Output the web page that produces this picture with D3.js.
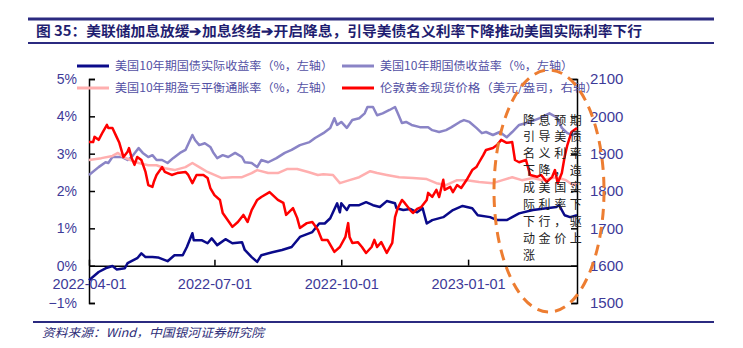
<!DOCTYPE html>
<html>
<head>
<meta charset="utf-8">
<script src="https://cdn.jsdelivr.net/npm/d3@7"></script>
<style>
  body { margin: 0; background: #fff; }
  svg { display: block; }
</style>
</head>
<body>
<div id="chart"></div>
<script>
// Series: [date, value]
const realYield = [
  ["2022-04-01", -0.39], ["2022-04-08", -0.17], ["2022-04-13", -0.07], ["2022-04-18", -0.01],
  ["2022-04-21", -0.10], ["2022-04-27", -0.07], ["2022-04-29", 0.07], ["2022-05-06", 0.20],
  ["2022-05-09", 0.33], ["2022-05-12", 0.23], ["2022-05-17", 0.23], ["2022-05-21", 0.22],
  ["2022-05-28", 0.12], ["2022-06-02", 0.28], ["2022-06-08", 0.28], ["2022-06-11", 0.50],
  ["2022-06-15", 0.87], ["2022-06-16", 0.68], ["2022-06-22", 0.68], ["2022-06-26", 0.60],
  ["2022-06-29", 0.73], ["2022-07-03", 0.55], ["2022-07-09", 0.71], ["2022-07-14", 0.60],
  ["2022-07-21", 0.63], ["2022-07-23", 0.42], ["2022-07-28", 0.23], ["2022-08-01", 0.10],
  ["2022-08-04", 0.28], ["2022-08-12", 0.36], ["2022-08-19", 0.42], ["2022-08-26", 0.50],
  ["2022-09-01", 0.77], ["2022-09-10", 0.90], ["2022-09-15", 1.13], ["2022-09-19", 1.13],
  ["2022-09-23", 1.27], ["2022-09-28", 1.67], ["2022-09-30", 1.43], ["2022-10-01", 1.67],
  ["2022-10-05", 1.49], ["2022-10-07", 1.62], ["2022-10-14", 1.62], ["2022-10-19", 1.70],
  ["2022-10-24", 1.62], ["2022-10-29", 1.57], ["2022-11-03", 1.73], ["2022-11-09", 1.67],
  ["2022-11-10", 1.54], ["2022-11-15", 1.49], ["2022-11-20", 1.52], ["2022-11-25", 1.43],
  ["2022-11-29", 1.54], ["2022-12-02", 1.13], ["2022-12-06", 1.22], ["2022-12-14", 1.30],
  ["2022-12-21", 1.49], ["2022-12-28", 1.60], ["2023-01-04", 1.54], ["2023-01-08", 1.35],
  ["2023-01-17", 1.30], ["2023-01-22", 1.22], ["2023-01-29", 1.22], ["2023-02-02", 1.30],
  ["2023-02-07", 1.40], ["2023-02-17", 1.49], ["2023-02-27", 1.54], ["2023-03-06", 1.57],
  ["2023-03-08", 1.62], ["2023-03-12", 1.35], ["2023-03-16", 1.30], ["2023-03-21", 1.35]
];

const nominalYield = [
  ["2022-04-01", 2.43], ["2022-04-08", 2.64], ["2022-04-13", 2.77], ["2022-04-15", 2.75],
  ["2022-04-18", 2.91], ["2022-04-25", 2.91], ["2022-04-29", 2.83], ["2022-05-02", 2.91],
  ["2022-05-07", 3.15], ["2022-05-10", 3.02], ["2022-05-14", 2.91], ["2022-05-17", 2.96],
  ["2022-05-20", 2.83], ["2022-05-24", 2.83], ["2022-05-28", 2.75], ["2022-06-01", 2.88],
  ["2022-06-06", 3.02], ["2022-06-10", 3.10], ["2022-06-15", 3.50], ["2022-06-17", 3.36],
  ["2022-06-20", 3.23], ["2022-06-24", 3.28], ["2022-06-28", 3.18], ["2022-06-30", 3.04],
  ["2022-07-03", 2.88], ["2022-07-07", 2.96], ["2022-07-11", 2.91], ["2022-07-16", 3.02],
  ["2022-07-21", 2.91], ["2022-07-23", 2.77], ["2022-07-28", 2.75], ["2022-08-01", 2.64],
  ["2022-08-04", 2.83], ["2022-08-09", 2.77], ["2022-08-15", 2.88], ["2022-08-21", 3.02],
  ["2022-08-26", 3.10], ["2022-09-01", 3.23], ["2022-09-08", 3.31], ["2022-09-12", 3.42],
  ["2022-09-18", 3.55], ["2022-09-23", 3.69], ["2022-09-26", 3.95], ["2022-09-28", 3.77],
  ["2022-10-01", 3.85], ["2022-10-05", 3.69], ["2022-10-09", 3.90], ["2022-10-14", 3.95],
  ["2022-10-18", 4.08], ["2022-10-20", 4.25], ["2022-10-24", 4.25], ["2022-10-27", 4.03],
  ["2022-10-31", 4.08], ["2022-11-05", 4.17], ["2022-11-09", 4.25], ["2022-11-11", 4.08],
  ["2022-11-14", 3.82], ["2022-11-17", 3.85], ["2022-11-21", 3.77], ["2022-11-27", 3.71],
  ["2022-12-03", 3.71], ["2022-12-06", 3.63], ["2022-12-11", 3.58], ["2022-12-16", 3.63],
  ["2022-12-20", 3.71], ["2022-12-26", 3.85], ["2022-12-29", 3.90], ["2023-01-02", 3.85],
  ["2023-01-07", 3.69], ["2023-01-11", 3.55], ["2023-01-14", 3.58], ["2023-01-19", 3.50],
  ["2023-01-24", 3.58], ["2023-01-29", 3.44], ["2023-02-02", 3.58], ["2023-02-07", 3.77],
  ["2023-02-15", 3.85], ["2023-02-22", 3.95], ["2023-03-01", 4.08], ["2023-03-06", 3.98],
  ["2023-03-10", 3.69], ["2023-03-14", 3.55], ["2023-03-18", 3.50], ["2023-03-21", 3.58]
];

const breakeven = [
  ["2022-04-01", 2.83], ["2022-04-10", 2.88], ["2022-04-18", 2.94], ["2022-04-22", 3.02],
  ["2022-04-26", 2.91], ["2022-05-01", 2.83], ["2022-05-07", 2.75], ["2022-05-14", 2.69],
  ["2022-05-20", 2.69], ["2022-05-26", 2.61], ["2022-06-02", 2.56], ["2022-06-10", 2.64],
  ["2022-06-15", 2.75], ["2022-06-20", 2.64], ["2022-06-26", 2.51], ["2022-07-01", 2.43],
  ["2022-07-06", 2.35], ["2022-07-14", 2.37], ["2022-07-21", 2.37], ["2022-07-28", 2.48],
  ["2022-08-01", 2.56], ["2022-08-09", 2.48], ["2022-08-16", 2.48], ["2022-08-23", 2.59],
  ["2022-08-30", 2.59], ["2022-09-07", 2.51], ["2022-09-14", 2.43], ["2022-09-18", 2.45],
  ["2022-09-25", 2.43], ["2022-09-30", 2.21], ["2022-10-07", 2.29], ["2022-10-14", 2.37],
  ["2022-10-22", 2.53], ["2022-10-27", 2.48], ["2022-11-03", 2.43], ["2022-11-12", 2.37],
  ["2022-11-22", 2.35], ["2022-12-02", 2.32], ["2022-12-09", 2.21], ["2022-12-16", 2.16],
  ["2022-12-24", 2.29], ["2022-12-31", 2.29], ["2023-01-09", 2.24], ["2023-01-19", 2.21],
  ["2023-01-26", 2.29], ["2023-02-02", 2.37], ["2023-02-09", 2.29], ["2023-02-17", 2.35],
  ["2023-02-24", 2.29], ["2023-03-06", 2.37], ["2023-03-13", 2.29], ["2023-03-18", 2.16],
  ["2023-03-21", 2.21]
];

const goldPrice = [
  ["2022-04-01", 1931], ["2022-04-04", 1931], ["2022-04-05", 1945], ["2022-04-08", 1937],
  ["2022-04-11", 1958], ["2022-04-14", 1977], ["2022-04-15", 1969], ["2022-04-18", 1969],
  ["2022-04-21", 1945], ["2022-04-23", 1929], ["2022-04-26", 1891], ["2022-04-29", 1905],
  ["2022-04-30", 1915], ["2022-05-02", 1888], ["2022-05-04", 1870], ["2022-05-06", 1891],
  ["2022-05-09", 1883], ["2022-05-12", 1851], ["2022-05-14", 1816], ["2022-05-17", 1811],
  ["2022-05-18", 1824], ["2022-05-20", 1843], ["2022-05-24", 1864], ["2022-05-26", 1851],
  ["2022-05-31", 1843], ["2022-06-04", 1848], ["2022-06-10", 1851], ["2022-06-12", 1843],
  ["2022-06-15", 1821], ["2022-06-18", 1843], ["2022-06-23", 1843], ["2022-06-26", 1835],
  ["2022-06-28", 1808], ["2022-07-01", 1789], ["2022-07-05", 1776], ["2022-07-07", 1741],
  ["2022-07-14", 1704], ["2022-07-18", 1717], ["2022-07-22", 1736], ["2022-07-25", 1717],
  ["2022-07-28", 1749], ["2022-08-01", 1776], ["2022-08-04", 1784], ["2022-08-10", 1797],
  ["2022-08-16", 1776], ["2022-08-20", 1768], ["2022-08-22", 1736], ["2022-08-27", 1754],
  ["2022-08-30", 1728], ["2022-09-01", 1701], ["2022-09-06", 1714], ["2022-09-10", 1717],
  ["2022-09-14", 1696], ["2022-09-17", 1669], ["2022-09-21", 1669], ["2022-09-26", 1637],
  ["2022-09-30", 1650], ["2022-10-04", 1677], ["2022-10-06", 1714], ["2022-10-07", 1677],
  ["2022-10-09", 1661], ["2022-10-13", 1663], ["2022-10-16", 1650], ["2022-10-19", 1634],
  ["2022-10-23", 1650], ["2022-10-25", 1669], ["2022-10-27", 1650], ["2022-10-30", 1663],
  ["2022-11-03", 1634], ["2022-11-07", 1661], ["2022-11-09", 1730], ["2022-11-11", 1754],
  ["2022-11-14", 1776], ["2022-11-16", 1768], ["2022-11-20", 1749], ["2022-11-22", 1741],
  ["2022-11-25", 1752], ["2022-11-28", 1757], ["2022-12-02", 1776], ["2022-12-03", 1795],
  ["2022-12-06", 1784], ["2022-12-09", 1803], ["2022-12-11", 1784], ["2022-12-14", 1830],
  ["2022-12-15", 1803], ["2022-12-19", 1811], ["2022-12-21", 1797], ["2022-12-24", 1816],
  ["2022-12-27", 1808], ["2022-12-31", 1830], ["2023-01-04", 1856], ["2023-01-07", 1864],
  ["2023-01-09", 1877], ["2023-01-12", 1896], ["2023-01-14", 1910], ["2023-01-19", 1915],
  ["2023-01-22", 1923], ["2023-01-25", 1937], ["2023-01-29", 1929], ["2023-02-02", 1931],
  ["2023-02-04", 1883], ["2023-02-07", 1877], ["2023-02-12", 1883], ["2023-02-15", 1843],
  ["2023-02-20", 1838], ["2023-02-23", 1843], ["2023-02-27", 1824], ["2023-03-03", 1838],
  ["2023-03-05", 1856], ["2023-03-07", 1821], ["2023-03-10", 1848], ["2023-03-12", 1891],
  ["2023-03-14", 1923], ["2023-03-17", 1958], ["2023-03-21", 1969]
];

const xTicks = ["2022-04-01", "2022-07-01", "2022-10-01", "2023-01-01"];
const leftTicks = [-1, 0, 1, 2, 3, 4, 5];
const rightTicks = [1500, 1600, 1700, 1800, 1900, 2000, 2100];

const titleText = "图 35：美联储加息放缓➔加息终结➔开启降息，引导美债名义利率下降推动美国实际利率下行";
const legendItems = [
  {name: "美国10年期国债实际收益率（%，左轴）", color: "#0a0a8a"},
  {name: "美国10年期国债收益率（%，左轴）", color: "#8a84c6"},
  {name: "美国10年期盈亏平衡通胀率（%，左轴）", color: "#ffafaf"},
  {name: "伦敦黄金现货价格（美元/盎司，右轴）", color: "#ff0000"}
];
const noteLines = ["降息预期", "引导美债", "名义利率", "下降，造", "成美国实", "际利率下", "下行，驱", "动金价上", "涨"];
const sourceText = "资料来源：Wind，中国银河证券研究院";

const width = 743;
const height = 348;
const cjk = "'Noto Sans CJK SC', 'Noto Sans', sans-serif";
const latin = "'Liberation Sans', Arial, sans-serif";
const labelColor = "#3d3a98";

const parse = d3.timeParse("%Y-%m-%d");

const svg = d3.select("#chart")
    .append("svg")
    .attr("width", width)
    .attr("height", height);

// title block
svg.append("line").attr("x1", 28).attr("x2", 714).attr("y1", 19).attr("y2", 19)
    .attr("stroke", "#2b2a80").attr("stroke-width", 3);
svg.append("line").attr("x1", 28).attr("x2", 714).attr("y1", 43).attr("y2", 43)
    .attr("stroke", "#2b2a80").attr("stroke-width", 2);
svg.append("text")
    .attr("x", 36).attr("y", 36)
    .attr("font-family", cjk).attr("font-size", 14).attr("font-weight", "bold")
    .attr("fill", "#1f1e70")
    .attr("textLength", 606).attr("lengthAdjust", "spacingAndGlyphs")
    .text(titleText);

// scales
const x = d3.scaleTime()
    .domain([parse("2022-04-01"), parse("2023-03-21")])
    .range([89, 577]);
const y = d3.scaleLinear().domain([-1, 5]).range([303, 79]);
const yR = d3.scaleLinear().domain([1500, 2100]).range([303, 79]);

// axes
const leftAxis = svg.append("g")
    .attr("transform", "translate(89,0)")
    .call(d3.axisLeft(y).tickValues(leftTicks).tickSize(-6).tickSizeOuter(-6).tickPadding(12)
        .tickFormat(d => (d < 0 ? "\u2212" + Math.abs(d) : d) + "%"));
const rightAxis = svg.append("g")
    .attr("transform", "translate(577,0)")
    .call(d3.axisRight(yR).tickValues(rightTicks).tickSize(-6).tickSizeOuter(-6).tickPadding(13)
        .tickFormat(d3.format("d")));
const xAxis = svg.append("g")
    .attr("transform", `translate(0,${y(0)})`)
    .call(d3.axisBottom(x).tickValues(xTicks.map(parse)).tickSize(-6).tickSizeOuter(0)
        .tickFormat(d3.timeFormat("%Y-%m-%d")));

[leftAxis, rightAxis, xAxis].forEach(g => {
    g.selectAll("path, line").attr("stroke", "#000").attr("stroke-width", 1.5);
    g.selectAll("text").attr("fill", labelColor).attr("font-family", latin).attr("font-size", 14);
});
rightAxis.selectAll("text").attr("font-size", 15);
xAxis.selectAll("text").attr("y", 13).attr("font-size", 14.5);

// series lines
const series = [
    {data: realYield, scale: y, color: legendItems[0].color},
    {data: nominalYield, scale: y, color: legendItems[1].color},
    {data: breakeven, scale: y, color: legendItems[2].color},
    {data: goldPrice, scale: yR, color: legendItems[3].color}
];
series.forEach(s => {
    const line = d3.line()
        .x(d => x(parse(d[0])))
        .y(d => s.scale(d[1]));
    svg.append("path")
        .datum(s.data)
        .attr("fill", "none")
        .attr("stroke", s.color)
        .attr("stroke-width", 2.5)
        .attr("stroke-linejoin", "round")
        .attr("d", line);
});

// legend
const legendPos = [[77, 66], [342, 66], [77, 88], [342, 88]];
const legendWidths = [218, 193, 218, 218];
legendItems.forEach((item, i) => {
    const [lx, ly] = legendPos[i];
    svg.append("line")
        .attr("x1", lx).attr("x2", lx + 32).attr("y1", ly).attr("y2", ly)
        .attr("stroke", item.color).attr("stroke-width", 3);
    svg.append("text")
        .attr("x", lx + 38).attr("y", ly + 4)
        .attr("font-family", cjk).attr("font-size", 11.5)
        .attr("fill", "#5350a4")
        .attr("textLength", legendWidths[i]).attr("lengthAdjust", "spacingAndGlyphs")
        .text(item.name);
});

// annotation, one glyph per cell so the rows keep their grid
const note = svg.append("g")
    .attr("font-family", cjk).attr("font-size", 12)
    .attr("fill", "#222");
noteLines.forEach((row, i) => {
    Array.from(row).forEach((ch, j) => {
        note.append("text")
            .attr("x", 523 + j * 15.6)
            .attr("y", 124.5 + i * 16.9)
            .text(ch);
    });
});

svg.append("ellipse")
    .attr("cx", 549).attr("cy", 191).attr("rx", 55).attr("ry", 121)
    .attr("fill", "none")
    .attr("stroke", "#ed7d31").attr("stroke-width", 3)
    .attr("stroke-dasharray", "11,7");

// footer
svg.append("line").attr("x1", 33).attr("x2", 714).attr("y1", 322).attr("y2", 322)
    .attr("stroke", "#2b2a80").attr("stroke-width", 2);
svg.append("text")
    .attr("x", 42).attr("y", 337)
    .attr("font-family", cjk).attr("font-size", 12).attr("font-style", "italic")
    .attr("fill", "#2e2d78")
    .attr("textLength", 222).attr("lengthAdjust", "spacingAndGlyphs")
    .text(sourceText);
</script>
</body>
</html>
